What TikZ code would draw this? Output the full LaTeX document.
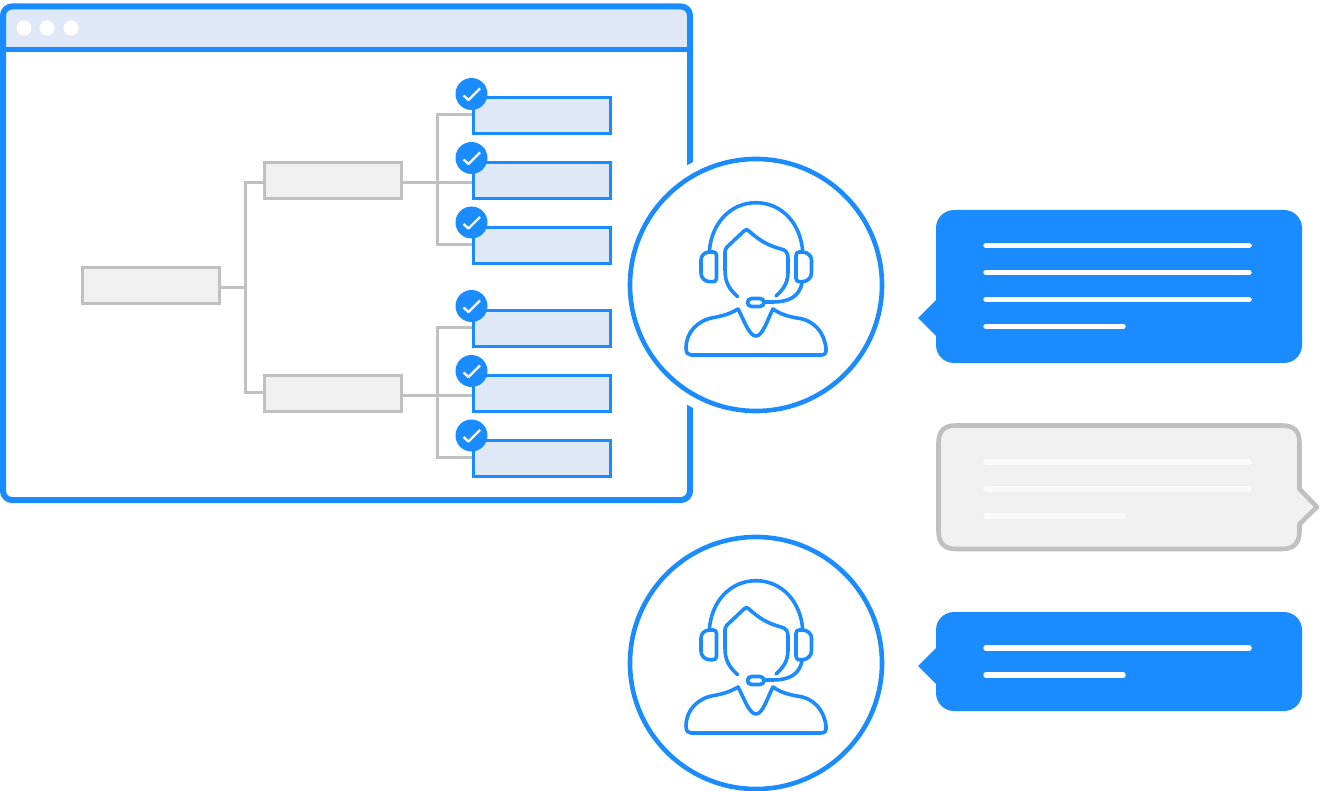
\documentclass[tikz,border=0pt]{standalone}
\definecolor{brandblue}{HTML}{1A8CFF}
\definecolor{paleblue}{HTML}{DFE8F7}
\definecolor{greyline}{HTML}{C0C0C0}
\definecolor{greyfill}{HTML}{F0F0F0}
\tikzset{
  greybox/.style={draw=greyline,fill=greyfill,line width=3pt,minimum width=137pt,minimum height=36pt,inner sep=0pt,outer sep=0pt},
  leafbox/.style={draw=brandblue,fill=paleblue,line width=3pt,minimum width=137pt,minimum height=36pt,inner sep=0pt,outer sep=0pt},
  conn/.style={draw=greyline,line width=3pt,shorten <=1.5pt,shorten >=1.5pt},
  checkdot/.style={circle,fill=brandblue,minimum size=32pt,inner sep=0pt,outer sep=0pt},
  tick/.style={draw=white,line width=2.4pt,line join=round},
  dotw/.style={circle,fill=white,minimum size=15pt,inner sep=0pt},
  halo/.style={circle,fill=white,minimum size=276pt,inner sep=0pt},
  ring/.style={circle,draw=brandblue,fill=white,line width=4.6pt,minimum size=252pt,inner sep=0pt,outer sep=0pt},
  icon/.style={draw=brandblue,line width=3.6pt,line cap=round,line join=round},
  bluebub/.style={fill=brandblue},
  greybub/.style={draw=greyline,fill=greyfill,line width=4.6pt,line join=round},
  txtw/.style={draw=white,line width=5.5pt,line cap=round},
  txtg/.style={draw=white!70!greyfill,line width=5.5pt,line cap=round},
  agent/.pic={
    \draw[icon] (709.3,252) .. controls (711,224) and (730,202.7) .. (756,202.7) .. controls (782,202.7) and (801,224) .. (802.7,252);
    \draw[icon] (713,252) -- (709,252) .. controls (704,252.5) and (701,256) .. (701,260) -- (701,273) .. controls (701,278) and (705,281.7) .. (710,281.7) -- (713,281.7) .. controls (715.5,281.7) and (716.5,280.5) .. (716.5,278) -- (716.5,255.5) .. controls (716.5,253) and (715.5,252) .. (713,252) -- cycle;
    \draw[icon] (799.5,252) -- (803,252) .. controls (808,252.5) and (811.5,256) .. (811.5,260) -- (811.5,273) .. controls (811.5,278) and (807,281.7) .. (802,281.7) -- (799.5,281.7) .. controls (797,281.7) and (796,280.5) .. (796,278) -- (796,255.5) .. controls (796,253) and (797,252) .. (799.5,252) -- cycle;
    \draw[icon] (737.5,296.5) .. controls (729,289) and (725,282) .. (725,270) -- (725,252) .. controls (725,250) and (725.5,249) .. (727,247) -- (744,231) .. controls (746,229) and (747,229) .. (749,231) .. controls (761,242) and (770,246) .. (781,249) .. controls (785,250) and (788,252) .. (788,258) -- (788,272) .. controls (788,282) and (784,289) .. (776,296);
    \draw[icon,rounded corners=4pt] (747.5,298.5) rectangle (764,306.5);
    \draw[icon] (764,302) -- (773,302) .. controls (788,302) and (800,297) .. (802,282);
    \draw[icon] (738,309) .. controls (730,314) and (722,316) .. (714,317.5) .. controls (698,320) and (686,332) .. (686,348) .. controls (686,353) and (688,355) .. (691,355) -- (821,355) .. controls (825,355) and (826.5,353) .. (826,348) .. controls (824,332) and (814,320) .. (797,318) .. controls (788,316.5) and (780,314) .. (773,309) .. controls (768,318) and (763,336) .. (756,336) .. controls (749,336) and (744,320) .. (738,309) -- cycle;
  }
}
\begin{document}
\begin{tikzpicture}[x=1pt,y=-1pt]
\useasboundingbox (0,0) rectangle (1320,791);
% window
\fill[paleblue,rounded corners=10pt] (3,6) -- (690,6) -- (690,49.5) -- (3,49.5) -- cycle;
\fill[paleblue] (3,30) rectangle (690,49.5);
\node[dotw] (d1) at (24,28) {};
\node[dotw] (d2) at (47,28) {};
\node[dotw] (d3) at (71,28) {};
\draw[brandblue,line width=5pt] (3,49.5) -- (690,49.5);
\draw[brandblue,line width=6pt,rounded corners=9pt] (3,6.5) rectangle (690,500);
% tree nodes
\node[greybox] (root) at (150.5,286) {};
\node[greybox] (b1) at (332.5,181) {};
\node[greybox] (b2) at (332.5,394) {};
\node[leafbox] (l1) at (542,116) {};
\node[leafbox] (l2) at (542,181) {};
\node[leafbox] (l3) at (542,245.5) {};
\node[leafbox] (l4) at (542,329) {};
\node[leafbox] (l5) at (542,394) {};
\node[leafbox] (l6) at (542,458.5) {};
% connectors
\coordinate (jr) at (245,287.5);
\coordinate (j1) at (437,183);
\coordinate (j2) at (437,395.5);
\coordinate (t1) at (473,115);
\coordinate (t3) at (473,244.5);
\coordinate (t4) at (473,328);
\coordinate (t6) at (473,457.5);
\draw[conn] (root.east |- jr) -- (jr);
\draw[conn] (b1.west |- 0,183) -| (jr) |- (b2.west |- 0,393);
\draw[conn] (b1.east |- j1) -- (l2.west |- j1);
\draw[conn] (t1) -| (j1) |- (t3);
\draw[conn] (b2.east |- j2) -- (l5.west |- j2);
\draw[conn] (t4) -| (j2) |- (t6);
% check badges
\foreach \n/\y in {c1/94,c2/158,c3/222.5,c4/306,c5/371,c6/435.5}{
  \node[checkdot] (\n) at (471.5,\y) {};
  \draw[tick] ([shift={(-8,1.5)}]\n.center) -- ([shift={(-3,6)}]\n.center) -- ([shift={(8.5,-5.5)}]\n.center);
}
% agents
\node[halo] (h1) at (756,285) {};
\node[ring] (a1) at (756,285) {};
\pic at (0,0) {agent};
\node[ring] (a2) at (756,663) {};
\pic at (0,378) {agent};
% bubbles
\fill[bluebub,rounded corners=18pt] (936,300) -- (936,210) -- (1302,210) -- (1302,363) -- (936,363) -- cycle;
\fill[bluebub] (936,300) -- (918,318) -- (936,336) -- cycle;
\foreach \y/\e in {245.5/1249,272.5/1249,299.5/1249,326.5/1123}{
  \draw[txtw] (986,\y) -- (\e,\y);
}
\draw[greybub] (938.5,443) .. controls (938.5,431) and (944,425.5) .. (956,425.5) -- (1282,425.5) .. controls (1294,425.5) and (1299.5,431) .. (1299.5,443) -- (1299.5,489) -- (1317,507) -- (1299.5,524) -- (1299.5,531) .. controls (1299.5,543) and (1294,549) .. (1282,549) -- (956,549) .. controls (944,549) and (938.5,543) .. (938.5,531) -- cycle;
\foreach \y/\e in {462/1249,489/1249,516/1123}{
  \draw[txtg] (986,\y) -- (\e,\y);
}
\fill[bluebub,rounded corners=18pt] (936,648) -- (936,612) -- (1302,612) -- (1302,711) -- (936,711) -- cycle;
\fill[bluebub] (936,648) -- (918,666) -- (936,684) -- cycle;
\foreach \y/\e in {648/1249,675/1123}{
  \draw[txtw] (986,\y) -- (\e,\y);
}
\end{tikzpicture}
\end{document}
